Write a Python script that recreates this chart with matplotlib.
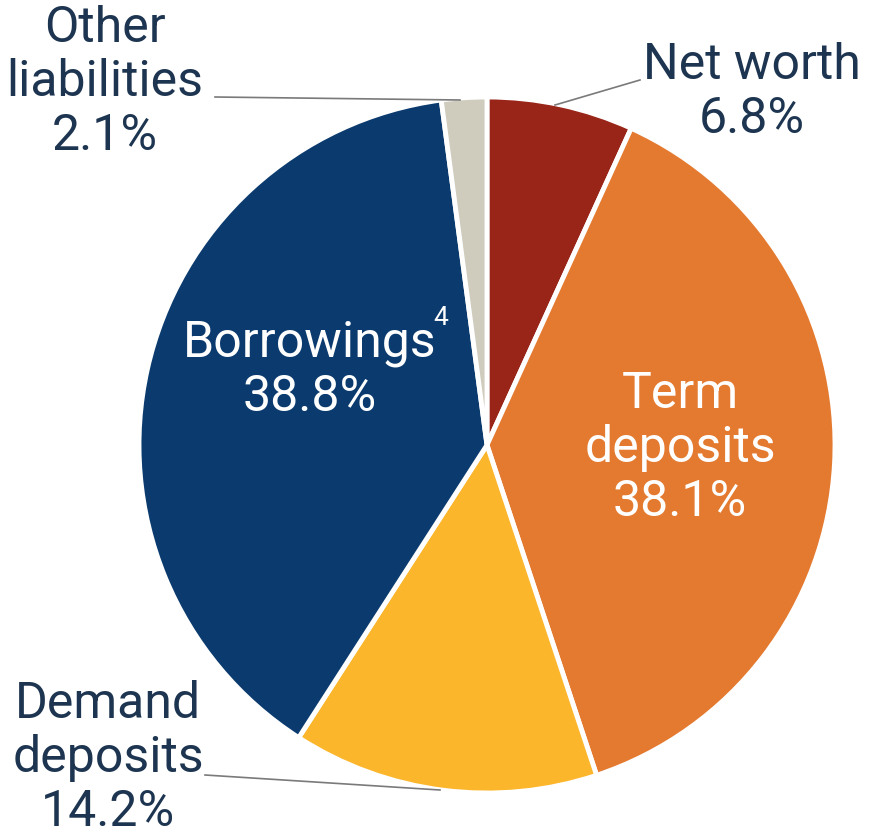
import matplotlib.pyplot as plt
import numpy as np

# liability shares, clockwise from 12 o'clock
names = ['Net worth', 'Term deposits', 'Demand deposits', 'Borrowings', 'Other liabilities']
shares = [6.8, 38.1, 14.2, 38.8, 2.1]
colors = ['#992418', '#E47A30', '#FBB62B', '#0B3B6E', '#CFCBBD']

plt.rcParams['font.family'] = ['Roboto', 'DejaVu Sans']
txt = '#1D3550'

fig = plt.figure(figsize=(8.69, 8.39), dpi=100)
ax = fig.add_axes([0, 0, 1, 1])

# pie in pixel coordinates (y measured from bottom)
ax.pie(shares, colors=colors, startangle=90, counterclock=False,
       center=(487, 839 - 445), radius=348, frame=True,
       wedgeprops=dict(edgecolor='white', linewidth=3.5))
ax.set_xlim(0, 869)
ax.set_ylim(0, 839)
ax.set_aspect('equal')
ax.axis('off')

fs = 36
def Y(y):
    return 839 - y

# outside labels
ax.text(105, Y(82), 'Other\nliabilities\n2.1%', ha='center', va='center',
        fontsize=fs, color=txt, linespacing=1.15)
ax.text(752, Y(92), 'Net worth\n6.8%', ha='center', va='center',
        fontsize=fs, color=txt, linespacing=1.15)
ax.text(108, Y(758), 'Demand\ndeposits\n14.2%', ha='center', va='center',
        fontsize=fs, color=txt, linespacing=1.15)

# inside labels
ax.text(310, Y(370), 'Borrowings\n38.8%', ha='center', va='center',
        fontsize=fs, color='white', linespacing=1.15)
ax.text(441, Y(318), '4', ha='center', va='center', fontsize=19, color='white')
ax.text(680, Y(448), 'Term\ndeposits\n38.1%', ha='center', va='center',
        fontsize=fs, color='white', linespacing=1.15)

# leader lines
lc = '#7A7A7A'
ax.plot([215, 460], [Y(97), Y(100)], color=lc, lw=1.2)
ax.plot([640, 555], [Y(80), Y(105)], color=lc, lw=1.2)
ax.plot([205, 440], [Y(775), Y(790)], color=lc, lw=1.2)

fig.savefig('out.png', dpi=100, facecolor='white')
